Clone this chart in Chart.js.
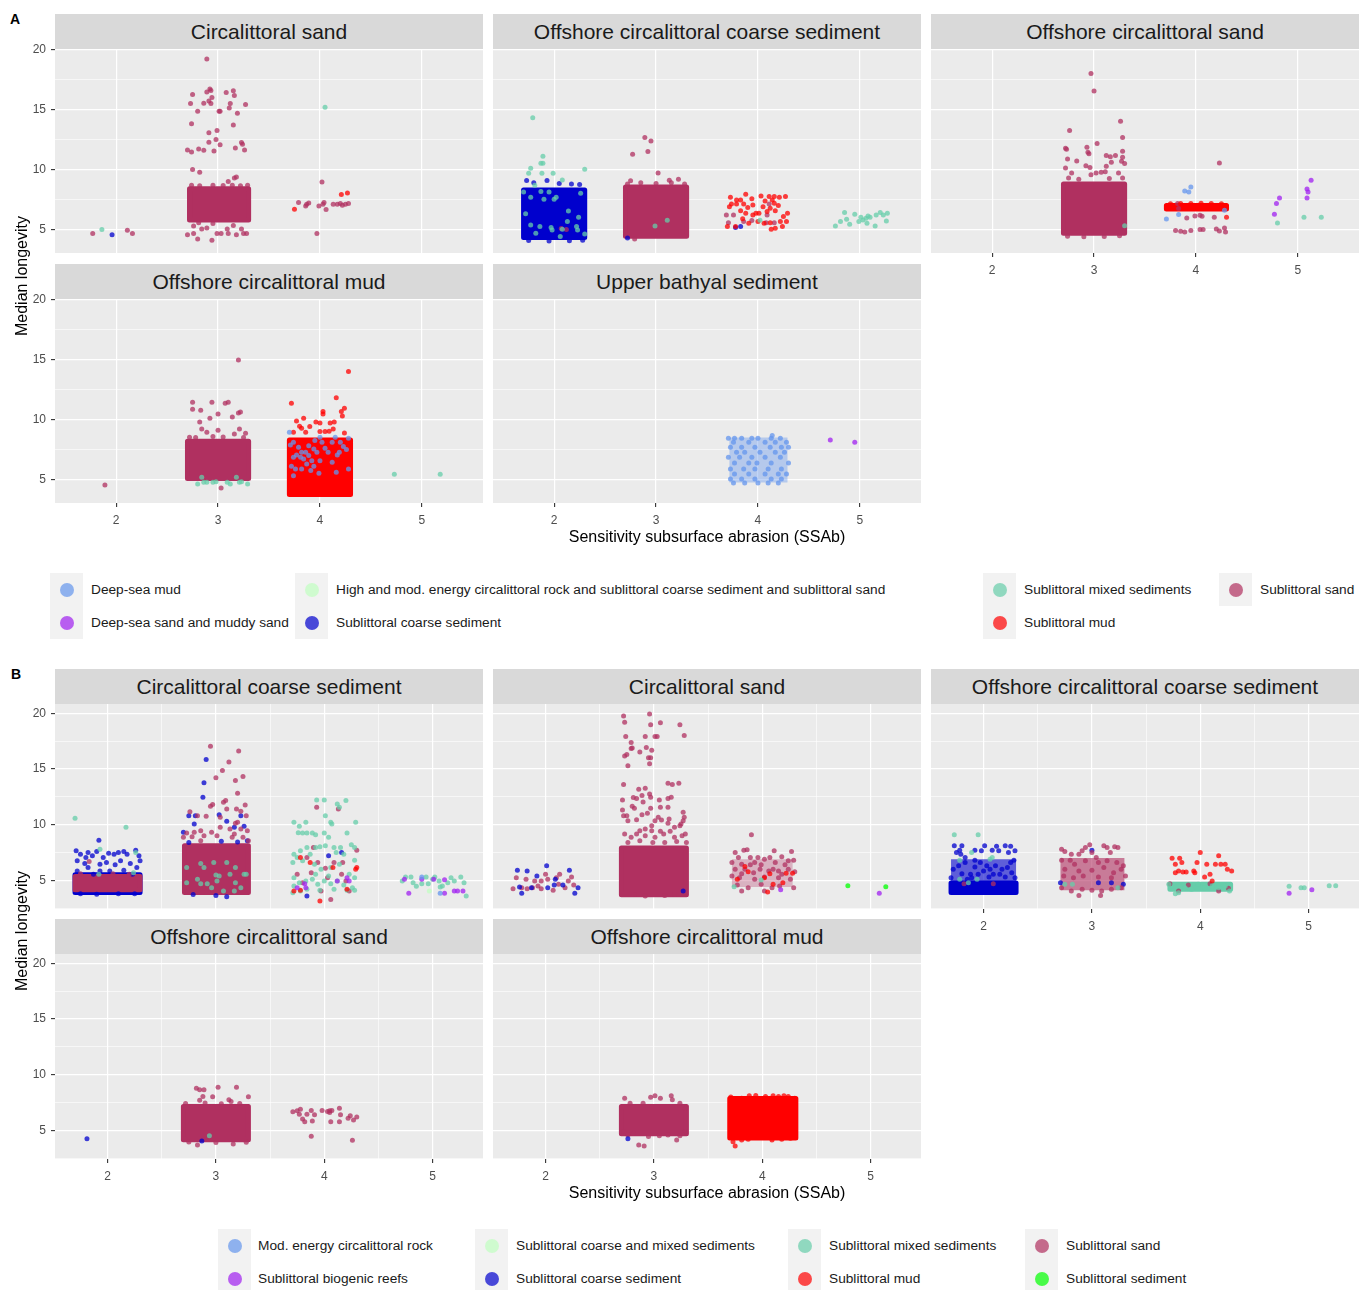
<!DOCTYPE html>
<html>
<head>
<meta charset="utf-8">
<script src="https://cdn.jsdelivr.net/npm/chart.js@4.4.1/dist/chart.umd.min.js"></script>
<style>
  body { margin: 0; background: #fff; font-family: "Liberation Sans", Arial, sans-serif; }
  #page { position: relative; width: 1371px; height: 1290px; overflow: hidden; }
  canvas { position: absolute; }
  .strip { position: absolute; width: 428px; height: 35px; line-height: 35px; background: #d9d9d9; color: #1a1a1a; font-size: 21px; text-align: center; }
  .tag { position: absolute; font-size: 14px; font-weight: bold; line-height: 14px; }
  .xtitle { position: absolute; width: 600px; height: 20px; line-height: 20px; font-size: 16px; text-align: center; color: #000; }
  .ytitle { position: absolute; width: 200px; height: 20px; line-height: 20px; font-size: 16px; text-align: center; color: #000; transform: rotate(-90deg); }
  .key { position: absolute; width: 33px; height: 33px; background: #f2f2f2; }
  .key span { position: absolute; left: 9.5px; top: 9.5px; width: 14px; height: 14px; border-radius: 50%; }
  .ltxt { position: absolute; height: 33px; line-height: 33px; font-size: 13.7px; color: #1a1a1a; white-space: nowrap; }
</style>
</head>
<body>
<div id="page"></div>
<script>
// couleurs des habitats
const colours = {
  deep: '#6495ED', purple: '#A020F0', pale: '#C1FFC1', coarse: '#0000CD',
  mixed: '#66CDAA', mud: '#FF0000', sand: '#B03060', sed: '#00FF00'
};

const yTicks = [2.5, 5, 7.5, 10, 12.5, 15, 17.5, 20];
const xTicksA = [2, 3, 4, 5];
const xTicksB = [2, 2.5, 3, 3.5, 4, 4.5, 5];

const legendA = [
  ['Deep-sea mud', 'deep'], ['Deep-sea sand and muddy sand', 'purple'],
  ['High and mod. energy circalittoral rock and sublittoral coarse sediment and sublittoral sand', 'pale'], ['Sublittoral coarse sediment', 'coarse'],
  ['Sublittoral mixed sediments', 'mixed'], ['Sublittoral mud', 'mud'],
  ['Sublittoral sand', 'sand']
];
const legendB = [
  ['Mod. energy circalittoral rock', 'deep'], ['Sublittoral biogenic reefs', 'purple'],
  ['Sublittoral coarse and mixed sediments', 'pale'], ['Sublittoral coarse sediment', 'coarse'],
  ['Sublittoral mixed sediments', 'mixed'], ['Sublittoral mud', 'mud'],
  ['Sublittoral sand', 'sand'], ['Sublittoral sediment', 'sed']
];

// ---- A: Circalittoral sand
const a1SandCore = [2.72, 3.30, 5.8, 8.4];
const a1Sand = [1.77,4.67, 2.11,4.94, 2.16,4.67,
  2.89,19.22, 2.75,16.25, 2.89,16.47, 2.92,16.72, 2.93,16.6, 2.94,16.0, 2.73,15.5, 2.86,15.53, 2.91,15.72, 2.93,15.5,
  2.80,14.86, 3.01,14.86, 3.02,14.86, 3.08,16.42, 3.15,16.58, 3.16,16.17, 3.12,15.5, 3.11,15.14, 3.19,14.69, 3.27,15.42,
  2.74,13.83, 3.15,13.72, 2.91,13.08, 2.99,13.25, 2.98,12.5, 2.91,12.28, 3.02,12.08, 2.70,11.64, 2.74,11.47, 2.81,11.72,
  2.86,11.61, 2.96,11.56, 3.17,11.81, 3.23,12.25, 3.24,12.11, 3.26,11.64, 2.75,10.0, 2.82,9.78, 3.16,9.31, 3.18,9.39,
  2.70,4.58, 2.76,4.67, 2.80,4.22, 2.94,4.11, 2.99,4.67, 3.03,4.67, 3.10,4.67, 3.18,4.58, 3.28,4.67, 3.25,4.67,
  2.84,5.05, 2.89,5.14, 3.09,5.05, 3.23,5.05, 2.81,5.58, 2.76,5.3, 3.15,5.35, 2.95,5.5,
  2.74,8.7, 2.82,8.65, 2.95,8.7, 3.05,8.68, 3.14,8.7, 3.22,8.66, 3.29,8.7, 3.10,9.0,
  3.79,7.25, 3.87,7.11, 3.89,7.22, 3.86,6.97, 4.02,8.97, 3.99,6.97, 4.04,7.25, 4.06,6.67, 4.03,7.11, 4.13,7.11,
  4.17,7.11, 4.20,7.17, 4.25,7.11, 4.28,7.17, 4.22,7.03, 3.97,4.67];
const a1Mud = [3.75,6.69, 4.21,7.92, 4.27,8.06];
const a1Mixed = [1.86,5.0, 4.05,15.19];
const a1Coarse = [1.96,4.58];

// ---- A: Offshore circalittoral coarse sediment
const a2CoarseCore = [1.70, 2.30, 4.35, 8.3];
const a2SandCore = [2.70, 3.30, 4.45, 8.55];
const a2Coarse = [1.73,9.1, 1.93,9.1, 2.17,8.8, 1.80,8.9, 2.05,8.85, 2.25,8.75, 1.75,4.1, 1.95,4.05, 2.15,4.08, 2.28,4.12,
  3.78,5.17, 3.83,5.25, 2.72,4.3];
const a2Sand = [2.77,11.28, 2.89,12.67, 2.95,12.39, 2.92,11.5, 3.02,9.72, 2.75,9.08, 3.13,9.11, 3.22,9.19, 2.79,4.22,
  2.07,5.1, 2.12,5.0, 2.72,8.8, 2.85,8.9, 3.0,8.85, 3.15,8.9, 3.28,8.8,
  3.69,6.22, 3.76,6.22, 3.71,5.58, 3.86,5.67, 3.94,5.75, 4.11,7.14, 4.09,6.22, 4.16,5.58, 4.08,5.58];
const a2Mud = [3.73,7.69, 3.79,7.47, 3.83,7.47, 3.88,7.94, 3.94,7.58, 3.74,7.14, 3.79,7.14, 3.86,7.14, 3.95,7.06, 3.83,6.58,
  3.88,6.36, 3.95,6.22, 3.98,6.36, 4.03,7.81, 4.07,7.39, 4.11,7.75, 4.14,7.47, 4.16,7.75, 4.21,7.69, 4.27,7.75,
  4.16,7.19, 4.12,6.78, 4.09,6.5, 4.17,6.58, 4.29,6.36, 4.0,5.67, 4.06,5.53, 4.12,5.58, 4.22,5.67, 4.28,5.67,
  3.70,5.25, 3.78,5.25, 3.91,5.53, 4.01,6.36, 4.13,5.03, 4.17,5.11, 4.24,5.25, 3.72,6.9, 3.90,6.85, 4.20,7.0,
  4.25,6.1, 3.85,5.9, 4.05,6.9];
const a2Mixed = [1.79,14.33, 1.89,11.11, 1.87,10.53, 1.89,10.53, 1.77,10.11, 1.75,9.69, 1.88,9.69, 1.99,9.69, 2.30,10.03,
  2.08,9.14, 1.81,8.69, 1.70,8.14, 1.87,8.17, 1.95,8.14, 1.77,7.69, 2.02,7.69, 2.0,7.53, 1.9,7.53, 2.26,8.03,
  2.14,6.56, 2.24,6.03, 2.13,5.67, 1.86,5.25, 1.97,5.17, 1.98,4.97, 2.08,5.03, 2.22,5.25, 2.23,4.97, 1.82,4.69,
  2.06,4.42, 2.30,4.64, 1.72,6.33, 1.77,5.39, 3.11,5.78, 2.99,5.31, 4.02,5.78,
  4.76,5.31, 4.81,5.67, 4.85,6.42, 4.87,5.86, 4.90,5.44, 4.95,6.28, 4.99,5.67, 5.01,6.03, 5.06,5.94, 5.07,5.53,
  5.10,6.03, 5.15,5.31, 5.16,6.22, 5.20,6.42, 5.23,6.22, 5.26,5.72, 5.27,6.36, 5.03,5.81, 5.08,6.14];

// ---- A: Offshore circalittoral sand
const a3SandCore = [2.70, 3.30, 4.7, 8.8];
const a3MudCore = [3.71, 4.30, 6.72, 7.0];
const a3Sand = [2.97,18.0, 3.0,16.56, 3.26,14.03, 2.76,13.25, 3.28,12.67, 2.72,11.78, 2.73,11.69, 2.93,11.86, 2.94,11.44,
  3.03,12.17, 2.95,11.33, 2.74,10.89, 2.83,10.72, 3.12,11.17, 3.16,11.08, 3.21,11.17, 3.28,11.53, 3.28,11.03, 3.17,10.61,
  3.27,10.69, 3.30,10.5, 2.72,10.14, 2.92,10.33, 2.96,10.17, 3.12,10.28, 3.07,9.78, 3.02,9.72, 3.11,9.83, 3.24,9.72,
  2.78,9.72, 2.97,9.58, 2.75,9.3, 2.85,9.2, 3.15,9.25, 3.28,9.3, 2.74,4.45, 2.9,4.4, 3.1,4.42, 3.25,4.48,
  3.83,6.75, 3.91,5.97, 3.99,6.14, 4.04,6.19, 4.06,6.11, 4.18,6.03, 3.80,4.92, 3.85,4.86, 3.89,4.81, 3.95,4.92,
  4.04,5.0, 4.07,5.0, 4.20,5.06, 4.23,4.89, 4.28,5.14, 4.29,4.81, 4.23,10.56, 3.82,7.17];
const a3Mud = [4.30,6.03, 3.75,7.15, 3.85,7.18, 3.95,7.17, 4.05,7.2, 4.15,7.18, 4.25,7.15];
const a3Deep = [3.89,8.22, 3.93,8.14, 3.95,8.56, 3.71,5.89, 3.83,6.25, 4.28,6.61];
const a3Purple = [4.77,6.28, 4.79,7.17, 4.82,7.64, 5.09,7.64, 5.09,8.39, 5.10,8.14, 5.13,9.11];
const a3Mixed = [3.30,5.33, 4.80,5.56, 5.06,6.03, 5.23,6.03];

// ---- A: Offshore circalittoral mud
const a4SandCore = [2.70, 3.30, 5.1, 8.2];
const a4MudCore = [3.70, 4.30, 3.75, 8.3];
const a4Sand = [1.89,4.56, 3.20,14.97, 2.75,11.44, 2.94,11.44, 3.07,11.36, 3.10,11.44, 2.75,10.86, 2.83,10.78, 2.92,10.11,
  3.0,10.47, 3.14,10.22, 3.20,10.56, 3.22,10.64, 2.82,9.81, 2.84,9.22, 3.0,9.11, 3.21,9.22, 3.27,8.86, 2.72,8.53,
  2.89,8.94, 3.16,8.81, 3.03,4.31, 2.78,8.5, 3.05,8.55, 3.25,8.5, 2.95,8.6];
const a4Mixed = [2.80,4.64, 2.84,5.19, 2.86,4.78, 2.89,4.78, 2.95,4.78, 2.98,4.83, 3.09,4.78, 3.12,4.64, 3.18,5.19, 3.21,4.78,
  3.23,4.83, 3.29,4.64, 4.73,5.44, 5.18,5.44];
const a4Mud = [4.28,14.0, 3.72,11.36, 4.16,11.83, 4.03,10.67, 4.03,10.47, 4.21,10.67, 4.22,10.31, 4.24,10.94, 3.77,9.89,
  3.84,10.11, 3.96,9.81, 4.0,9.72, 4.10,9.72, 4.14,9.81, 3.80,9.44, 3.82,9.28, 3.90,9.42, 4.0,9.0, 4.05,9.0,
  4.09,9.03, 4.13,9.22, 4.24,8.89, 3.74,8.94, 3.86,8.94];
const a4Deep = [3.70,8.94, 3.71,7.89, 3.74,8.11, 3.79,7.69, 3.82,7.28, 3.77,7.06, 3.74,6.86, 3.81,6.86, 3.86,7.28, 3.89,7.83,
  3.94,7.56, 3.95,8.25, 4.0,8.53, 4.02,8.11, 4.05,7.61, 4.08,7.28, 4.12,8.11, 4.15,8.53, 4.20,8.11, 4.23,7.75,
  4.26,7.5, 4.28,8.44, 4.17,7.06, 4.12,6.44, 4.0,6.58, 3.94,6.11, 3.91,5.75, 3.87,6.31, 3.82,5.89, 3.74,5.33,
  3.76,5.89, 3.72,6.11, 3.99,5.53, 4.16,5.61, 4.28,5.89, 4.19,7.28, 3.97,7.28, 3.84,6.72, 3.92,6.58, 3.89,7.0];

// ---- A: Upper bathyal sediment
const a5DeepCore = [3.72, 4.29, 4.75, 8.5];
const a5Deep = [3.71,8.44, 3.77,8.44, 3.84,8.44, 3.94,8.44, 4.0,8.44, 4.13,8.44, 4.22,8.44, 4.14,8.67,
  3.76,8.11, 3.91,8.11, 4.07,8.11, 4.17,8.11, 4.28,8.11, 3.73,7.69, 3.84,7.69, 3.97,7.69, 4.12,7.69, 4.23,7.69, 4.30,7.69,
  3.79,7.28, 3.87,7.28, 4.02,7.28, 4.17,7.28, 4.26,7.28, 3.71,6.86, 3.82,6.86, 3.94,6.86, 4.07,6.86, 4.22,6.86,
  3.77,6.39, 3.91,6.39, 3.99,6.39, 4.13,6.39, 4.30,6.39, 3.73,5.89, 3.86,5.89, 3.97,5.89, 4.10,5.89, 4.23,5.89,
  3.77,5.47, 3.91,5.47, 4.07,5.47, 4.20,5.47, 4.28,5.47, 3.73,5.06, 3.84,5.06, 3.97,5.06, 4.13,5.06, 4.23,5.06,
  3.76,4.72, 3.87,4.72, 4.0,4.72, 4.10,4.72, 4.20,4.72];
const a5Purple = [4.71,8.31, 4.95,8.11];

// ---- B: Circalittoral coarse sediment
const b1CoarseCore = [1.70, 2.30, 3.9, 5.5];
const b1SandCore2 = [1.70, 2.30, 4.15, 5.35];
const b1SandCore3 = [2.71, 3.30, 3.9, 8.1];
const b1Coarse = [1.92,8.61, 1.71,7.65, 1.75,7.35, 1.82,7.5, 1.86,7.2, 1.90,7.59, 1.80,7.05, 1.96,7.05, 2.01,7.44, 2.06,7.35,
  2.10,7.5, 2.15,7.59, 2.18,7.35, 2.26,7.71, 2.29,7.2, 1.93,6.45, 1.99,6.6, 2.07,6.39, 2.12,6.75, 2.21,6.51,
  2.27,6.14, 1.82,6.14, 1.87,5.54, 1.93,5.84, 2.02,5.84, 2.15,5.9, 2.23,5.54, 2.30,6.75, 1.72,6.75, 1.79,6.51,
  1.72,5.84, 1.75,3.8, 1.9,3.75, 2.1,3.78, 2.25,3.8,
  2.91,15.87, 2.89,13.77, 2.88,12.47, 2.75,10.81, 2.81,10.81, 3.03,10.9, 3.10,10.3, 3.23,10.81, 3.17,9.76, 3.26,9.85,
  2.80,10.06, 2.70,9.31, 2.79,3.73, 3.0,3.64, 3.10,3.52, 3.29,8.55, 2.75,8.4, 3.05,8.5, 3.2,8.45,
  4.04,7.2, 4.16,7.5, 3.84,3.58];
const b1Sand = [1.83,6.69, 1.75,5.6, 2.05,5.6, 2.2,5.55,
  2.95,17.05, 3.21,16.63, 3.12,15.63, 3.06,14.88, 3.0,14.22, 3.25,14.34, 3.18,13.98, 3.20,12.83, 2.97,11.81, 2.95,11.66,
  3.07,12.02, 3.09,12.17, 3.27,11.78, 3.10,11.42, 3.19,11.42, 3.23,11.2, 2.76,11.17, 2.83,10.81, 2.91,10.75, 3.28,10.81,
  3.04,10.66, 3.18,10.12, 3.20,10.21, 2.73,9.25, 2.80,9.31, 2.86,9.46, 2.96,9.31, 3.04,9.76, 3.13,9.61, 3.17,9.16,
  3.23,9.61, 3.29,9.46, 2.70,8.86, 2.78,8.92, 2.89,9.0, 3.01,9.0, 3.15,8.86, 3.25,8.86, 3.30,8.55, 2.86,8.55,
  3.93,11.57, 4.13,11.42, 3.90,7.95, 4.30,7.71, 3.84,7.05, 3.94,6.6, 4.01,6.08, 4.09,6.6, 4.17,6.6, 3.88,5.69,
  4.03,5.24, 4.20,4.94, 3.80,4.79, 3.75,5.54, 4.16,5.54, 4.06,3.28, 3.97,4.04, 4.23,4.04];
const b1Mixed = [1.70,10.57, 2.17,9.76, 1.93,7.8, 2.26,7.5, 2.24,5.69, 1.92,5.54,
  2.86,6.51, 2.89,6.14, 2.98,6.6, 3.0,5.48, 3.03,5.39, 2.83,5.09, 2.86,4.7, 2.92,4.7, 3.01,4.94, 3.10,6.6,
  3.13,5.54, 3.18,6.14, 3.18,4.79, 3.26,5.54, 3.28,5.54, 3.07,4.04, 3.17,4.04, 2.73,6.14, 2.73,4.79, 2.96,4.34, 3.23,4.34,
  3.93,12.23, 4.0,12.23, 4.20,12.17, 4.12,11.87, 4.14,11.57, 3.72,10.21, 3.77,9.85, 3.83,10.21, 3.76,9.28, 3.80,9.25,
  3.84,9.25, 3.89,9.25, 3.92,9.1, 4.01,10.81, 4.06,10.21, 4.07,10.06, 4.29,10.21, 4.0,9.25, 4.04,8.86, 4.21,9.25,
  3.84,7.95, 3.92,7.95, 3.96,8.01, 4.01,8.1, 4.09,7.95, 4.15,7.95, 4.25,8.19, 4.28,7.95, 3.78,7.65, 3.72,7.35,
  3.75,7.05, 3.87,7.35, 4.11,7.5, 4.18,7.35, 4.28,6.81, 3.71,6.6, 3.80,6.75, 3.91,6.45, 3.97,5.99, 4.06,6.14,
  4.14,6.45, 4.23,5.54, 4.28,5.24, 3.72,5.24, 3.77,4.79, 3.83,4.94, 3.89,5.09, 3.94,4.64, 4.0,4.94, 4.06,4.7,
  4.12,4.94, 4.18,4.58, 4.26,4.34, 3.71,3.89, 3.78,4.04, 3.84,4.19, 3.96,4.1, 4.09,4.19, 4.21,4.1, 4.28,4.1,
  3.72,4.49, 3.92,5.54, 4.04,5.39,
  4.72,4.94, 4.75,5.3, 4.80,5.3, 4.82,4.79, 4.85,4.46, 4.90,4.7, 4.94,5.3, 4.96,4.7, 5.0,5.09, 5.02,5.3,
  5.06,4.94, 5.09,4.49, 5.14,4.79, 5.17,5.24, 5.20,4.94, 5.26,5.3, 5.29,4.79, 5.31,3.58, 5.07,4.4];
const b1Mud = [3.78,7.05, 3.87,6.6, 4.08,6.14, 4.29,5.99, 4.30,6.14, 3.96,3.13, 3.72,4.04, 3.78,4.1, 4.21,4.19];
const b1Purple = [3.75,4.34, 3.82,4.7, 3.83,4.34, 4.12,4.94, 4.21,5.24, 4.23,4.94, 4.74,5.09, 4.78,3.83, 4.90,5.09, 5.01,5.09,
  5.11,5.06, 5.11,3.83, 5.20,4.04, 5.23,4.04, 5.28,4.04];
const b1Deep = [4.90,5.3, 5.07,3.83];
const b1Pale = [4.97,4.04];

// ---- B: Circalittoral sand
const b2SandCore3 = [2.70, 3.30, 3.7, 7.9];
const b2SandCore4 = [3.72, 4.28, 4.4, 6.9];
const b2Sand = [1.70,4.25, 1.73,5.24, 1.78,4.34, 1.82,5.09, 1.88,4.34, 1.90,4.94, 1.96,4.94, 2.0,5.54, 2.02,5.09, 2.07,4.1,
  2.10,5.24, 2.13,5.54, 2.18,4.34, 2.21,4.94, 2.24,5.3, 2.26,4.58, 1.96,4.25, 1.83,4.25, 1.93,4.49, 2.12,4.64,
  2.72,19.76, 2.96,19.94, 2.73,19.22, 2.97,18.98, 3.06,19.16, 3.24,18.98, 2.74,17.92, 2.92,17.92, 3.01,17.92, 3.03,17.92,
  3.28,18.01, 2.79,17.38, 2.80,16.9, 2.79,16.84, 2.87,16.54, 2.93,16.93, 2.98,16.69, 2.73,16.17, 2.75,16.3, 2.95,16.02,
  2.97,16.02, 2.96,15.48, 2.76,15.3, 2.72,13.61, 2.86,13.19, 2.92,13.28, 3.13,13.73, 3.17,13.61, 3.23,13.73, 2.71,12.23,
  2.81,12.44, 2.84,12.35, 2.89,12.62, 2.96,12.77, 2.97,12.47, 3.05,12.23, 3.13,12.35, 3.16,12.47, 2.90,12.05, 2.80,11.66,
  2.82,11.48, 2.97,11.48, 3.06,11.57, 3.13,11.57, 2.71,11.33, 2.72,10.81, 2.75,10.81, 2.89,10.9, 2.94,11.02, 3.04,10.66,
  3.14,10.51, 3.27,11.11, 3.28,10.66, 2.76,10.36, 2.84,10.45, 3.01,10.36, 3.07,10.42, 3.13,10.12, 2.98,9.91, 3.27,10.36,
  3.25,10.06, 2.87,9.46, 2.92,9.61, 2.98,9.46, 3.06,9.4, 3.15,9.4, 3.19,9.76, 3.24,9.91, 3.26,9.0, 2.73,9.16,
  2.79,8.86, 2.84,9.16, 2.92,9.0, 3.01,8.86, 3.09,9.16, 3.19,8.86, 3.29,9.16, 2.76,8.4, 2.87,8.55, 2.99,8.4,
  3.10,8.4, 3.21,8.49, 3.30,8.4, 2.82,3.73, 2.92,3.58, 3.10,3.64, 3.19,3.73,
  3.90,9.1, 3.75,7.5, 3.83,7.71, 3.86,7.74, 4.11,7.65, 4.27,7.59, 3.78,7.05, 3.89,7.05, 3.96,7.05, 4.02,6.9,
  4.07,7.05, 4.18,7.11, 4.24,6.75, 4.29,6.81, 3.72,6.6, 3.81,6.45, 3.93,6.6, 3.99,6.39, 4.12,6.6, 4.21,6.39,
  3.75,5.99, 3.84,5.99, 3.92,5.69, 3.98,5.99, 4.06,5.84, 4.15,5.84, 4.24,5.99, 4.30,5.78, 3.72,5.39, 3.79,5.24,
  3.93,5.09, 4.02,5.3, 4.15,5.24, 4.26,5.09, 3.77,4.58, 3.87,4.34, 3.99,4.64, 4.09,4.34, 4.16,4.49, 4.29,4.34,
  3.81,4.04, 4.02,4.04, 3.81,5.6, 3.89,6.39, 4.10,5.99, 4.18,5.54];
const b2Coarse = [1.74,5.9, 1.83,5.84, 1.92,5.39, 2.01,6.3, 2.22,5.9, 2.09,5.09, 2.16,4.58, 1.78,3.83, 2.27,3.83, 2.30,4.34,
  1.76,4.4, 1.87,4.34, 2.02,4.34, 2.08,4.58, 3.27,4.04];
const b2Mud = [3.84,6.23, 3.87,5.78, 3.77,5.09, 4.07,5.6, 4.02,5.24, 4.10,4.64, 4.05,3.95, 4.19,4.79, 4.22,5.63, 4.28,5.63];
const b2Mixed = [3.74,4.43, 3.99,5.03];
const b2Purple = [4.17,4.16, 5.08,3.83];
const b2Sed = [4.79,4.52, 5.14,4.43];

// ---- B: Offshore circalittoral coarse sediment
const b3CoarseCore = [1.70, 2.30, 3.9, 4.75];
const b3CoarseCoreUp = [1.70, 2.30, 4.75, 6.9];
const b3SandCore = [2.71, 3.30, 4.1, 7.0];
const b3MixedCore = [3.72, 4.28, 4.2, 4.65];
const b3Coarse = [1.73,8.1, 1.78,7.71, 1.80,8.1, 1.75,7.5, 1.79,7.35, 1.83,7.05, 1.92,7.71, 1.98,7.65, 2.01,8.1, 2.08,7.71,
  2.12,8.07, 2.14,7.65, 2.20,8.1, 2.25,8.07, 2.29,7.65, 2.23,7.5, 2.28,6.81, 2.25,6.6, 1.92,6.2, 1.97,6.6,
  2.03,6.3, 2.06,5.99, 2.11,6.3, 2.17,5.99, 2.22,6.14, 1.72,5.99, 1.77,6.3, 1.83,6.6, 1.80,5.6, 1.88,5.54,
  1.95,5.54, 2.0,5.84, 2.09,5.54, 2.15,5.54, 2.26,5.69, 1.89,5.24, 2.05,5.3, 2.20,5.3, 2.29,5.24, 1.70,5.24,
  1.85,5.09, 1.92,6.81, 2.71,4.79, 3.0,7.71, 3.06,4.79, 3.18,4.79, 3.29,4.64];
const b3Sand = [1.82,4.7, 2.09,4.7,
  2.98,8.19, 2.72,7.8, 2.75,7.59, 2.81,7.35, 2.88,7.35, 2.91,7.65, 2.94,7.95, 3.0,7.5, 3.11,8.1, 3.14,7.95,
  3.21,8.01, 3.24,7.95, 3.17,7.5, 3.04,7.05, 2.72,6.81, 2.80,6.81, 2.84,6.45, 2.94,6.75, 3.06,6.6, 3.14,6.75,
  3.23,6.6, 3.29,6.3, 2.75,5.99, 2.88,5.84, 3.0,5.9, 3.11,6.14, 3.20,5.69, 3.27,5.99, 2.74,5.39, 2.83,5.24,
  2.92,5.39, 3.06,5.3, 3.18,5.24, 3.31,5.39, 2.72,4.34, 2.81,4.04, 2.91,4.19, 3.0,4.1, 3.09,4.04, 3.18,4.19,
  3.27,4.34, 2.88,3.64, 3.08,3.64,
  3.72,4.7, 3.89,4.58, 4.09,4.7, 4.26,4.28, 3.80,4.04, 4.17,4.04];
const b3Mud = [3.74,6.99, 3.81,6.99, 3.83,6.6, 3.77,6.45, 4.0,7.5, 3.97,6.6, 4.06,6.45, 4.17,7.2, 4.19,6.45, 4.23,6.45,
  4.25,5.99, 4.29,5.84, 3.77,5.69, 3.80,5.84, 3.84,5.75, 3.87,5.75, 3.94,5.84, 3.95,5.69, 4.04,5.3, 4.09,5.54,
  4.11,4.94, 4.14,6.45];
const b3Mixed = [1.73,9.1, 1.95,9.1, 1.89,7.5, 1.78,6.81, 2.06,6.9, 2.08,7.05, 1.78,5.09, 1.86,4.79, 1.94,5.09,
  2.75,4.64, 2.82,4.64, 3.24,4.34,
  3.71,4.64, 3.77,3.8, 3.80,3.89, 3.86,4.34, 3.92,4.19, 3.98,4.64, 4.04,4.34, 4.11,4.49, 4.17,4.34, 4.23,4.46, 4.27,4.04,
  4.82,4.46, 4.93,4.34, 4.96,4.34, 5.19,4.52, 5.25,4.52];
const b3Purple = [4.82,3.83, 5.03,4.16];

// ---- B: Offshore circalittoral sand
const b4SandCore = [2.70, 3.30, 4.15, 7.15];
const b4Sand = [2.82,8.77, 2.85,8.64, 2.89,8.64, 2.88,8.04, 2.85,7.71, 2.97,8.01, 3.02,8.86, 3.12,7.74, 3.14,7.59, 3.19,8.86,
  3.30,8.01, 3.05,7.38, 2.83,3.67, 3.16,3.77, 3.28,3.92, 2.72,7.4, 2.9,7.45, 3.22,7.4, 2.75,3.95, 3.0,3.9,
  3.71,6.66, 3.75,6.75, 3.78,6.9, 3.77,6.45, 3.80,6.02, 3.82,5.78, 3.84,6.45, 3.88,6.78, 3.91,6.39, 3.89,5.84,
  3.98,6.78, 4.03,6.69, 4.05,6.75, 4.07,6.78, 4.05,6.6, 4.06,5.78, 4.14,6.99, 4.15,6.39, 4.14,5.78, 4.22,6.08,
  4.24,6.3, 4.27,5.93, 4.30,6.2, 3.88,4.46, 4.26,4.1];
const b4Coarse = [1.81,4.25, 2.87,4.04];
const b4Mixed = [2.94,4.52];

// ---- B: Offshore circalittoral mud
const b5SandCore = [2.70, 3.30, 4.7, 7.15];
const b5MudCore = [3.70, 4.31, 4.3, 7.85];
const b5Sand = [2.73,7.89, 2.97,7.98, 3.01,8.1, 3.06,7.89, 3.16,8.1, 3.17,7.74, 3.24,7.44, 3.29,6.99, 2.78,7.44, 2.90,7.44,
  2.76,4.58, 2.86,3.67, 2.91,3.58, 3.21,4.13, 3.24,4.52, 3.29,4.88, 3.13,4.58, 2.81,4.73, 2.95,4.45, 3.05,4.5, 2.72,4.9];
const b5Mud = [3.73,3.98, 3.75,3.58, 3.81,4.13, 3.87,4.19, 3.81,7.89, 3.94,8.13, 4.03,8.04, 4.15,8.04, 4.24,8.04, 4.30,7.89,
  4.09,4.13, 4.18,4.19, 4.26,4.28, 3.71,8.0, 3.88,8.1, 4.1,8.1, 4.2,8.1];
const b5Coarse = [2.76,4.25];

// facettes : [type, habitat, données, alpha du bloc]
const facets = [
  { panel: 'A', row: 0, col: 0, title: 'Circalittoral sand', xAxis: false, yAxis: true,
    layers: [['core', 'sand', a1SandCore, 1], ['pts', 'sand', a1Sand], ['pts', 'mud', a1Mud], ['pts', 'mixed', a1Mixed], ['pts', 'coarse', a1Coarse]] },
  { panel: 'A', row: 0, col: 1, title: 'Offshore circalittoral coarse sediment', xAxis: false, yAxis: false,
    layers: [['core', 'coarse', a2CoarseCore, 1], ['core', 'sand', a2SandCore, 1], ['pts', 'coarse', a2Coarse], ['pts', 'sand', a2Sand], ['pts', 'mud', a2Mud], ['pts', 'mixed', a2Mixed]] },
  { panel: 'A', row: 0, col: 2, title: 'Offshore circalittoral sand', xAxis: true, yAxis: false,
    layers: [['core', 'sand', a3SandCore, 1], ['core', 'mud', a3MudCore, 1], ['pts', 'sand', a3Sand], ['pts', 'mud', a3Mud], ['pts', 'deep', a3Deep], ['pts', 'purple', a3Purple], ['pts', 'mixed', a3Mixed]] },
  { panel: 'A', row: 1, col: 0, title: 'Offshore circalittoral mud', xAxis: true, yAxis: true,
    layers: [['core', 'sand', a4SandCore, 1], ['core', 'mud', a4MudCore, 1], ['pts', 'sand', a4Sand], ['pts', 'mixed', a4Mixed], ['pts', 'mud', a4Mud], ['pts', 'deep', a4Deep]] },
  { panel: 'A', row: 1, col: 1, title: 'Upper bathyal sediment', xAxis: true, yAxis: false,
    layers: [['core', 'deep', a5DeepCore, 0.4], ['pts', 'deep', a5Deep], ['pts', 'purple', a5Purple]] },
  { panel: 'B', row: 0, col: 0, title: 'Circalittoral coarse sediment', xAxis: false, yAxis: true,
    layers: [['core', 'coarse', b1CoarseCore, 1], ['core', 'sand', b1SandCore2, 1], ['core', 'sand', b1SandCore3, 1], ['pts', 'coarse', b1Coarse], ['pts', 'sand', b1Sand], ['pts', 'mixed', b1Mixed], ['pts', 'mud', b1Mud], ['pts', 'purple', b1Purple], ['pts', 'deep', b1Deep], ['pts', 'pale', b1Pale]] },
  { panel: 'B', row: 0, col: 1, title: 'Circalittoral sand', xAxis: false, yAxis: false,
    layers: [['core', 'sand', b2SandCore3, 1], ['core', 'sand', b2SandCore4, 0.3], ['pts', 'sand', b2Sand], ['pts', 'coarse', b2Coarse], ['pts', 'mud', b2Mud], ['pts', 'mixed', b2Mixed], ['pts', 'purple', b2Purple], ['pts', 'sed', b2Sed]] },
  { panel: 'B', row: 0, col: 2, title: 'Offshore circalittoral coarse sediment', xAxis: true, yAxis: false,
    layers: [['core', 'coarse', b3CoarseCore, 1], ['core', 'coarse', b3CoarseCoreUp, 0.6], ['core', 'sand', b3SandCore, 0.6], ['core', 'mixed', b3MixedCore, 1], ['pts', 'coarse', b3Coarse], ['pts', 'sand', b3Sand], ['pts', 'mud', b3Mud], ['pts', 'mixed', b3Mixed], ['pts', 'purple', b3Purple]] },
  { panel: 'B', row: 1, col: 0, title: 'Offshore circalittoral sand', xAxis: true, yAxis: true,
    layers: [['core', 'sand', b4SandCore, 1], ['pts', 'sand', b4Sand], ['pts', 'coarse', b4Coarse], ['pts', 'mixed', b4Mixed]] },
  { panel: 'B', row: 1, col: 1, title: 'Offshore circalittoral mud', xAxis: true, yAxis: false,
    layers: [['core', 'sand', b5SandCore, 1], ['core', 'mud', b5MudCore, 1], ['pts', 'sand', b5Sand], ['pts', 'mud', b5Mud], ['pts', 'coarse', b5Coarse]] }
];

// géométrie des panneaux
const panelGeo = {
  A: { strip: [14, 264], top: [49, 299], h: 204, yMin: 3.05, yMax: 20.05, xMin: 1.4, xMax: 5.6, xTicks: xTicksA },
  B: { strip: [669, 919], top: [704, 954], h: 205, yMin: 2.42, yMax: 20.85, xMin: 1.515, xMax: 5.465, xTicks: xTicksB }
};
const colLeft = [55, 493, 931];
const panelW = 428;
const FONT = '"Liberation Sans", Arial, sans-serif';

function rgba(hex, a) {
  const n = parseInt(hex.slice(1), 16);
  return 'rgba(' + (n >> 16) + ',' + ((n >> 8) & 255) + ',' + (n & 255) + ',' + a + ')';
}

function pairs(flat) {
  const out = [];
  for (let i = 0; i < flat.length; i += 2) out.push({ x: flat[i], y: flat[i + 1] });
  return out;
}

const panelBg = {
  id: 'panelBg',
  beforeDraw(chart) {
    const { ctx, chartArea: a } = chart;
    ctx.save();
    ctx.fillStyle = '#ebebeb';
    ctx.fillRect(a.left, a.top, a.right - a.left, a.bottom - a.top);
    ctx.restore();
  }
};

const page = document.getElementById('page');

function addDiv(cls, text, css) {
  const d = document.createElement('div');
  d.className = cls;
  d.textContent = text;
  Object.assign(d.style, css);
  page.appendChild(d);
  return d;
}

function buildFacet(f) {
  const g = panelGeo[f.panel];
  const padL = f.yAxis ? 55 : 0;
  const padT = 10;
  const padB = f.xAxis ? 26 : 0;
  const left = colLeft[f.col];
  const top = g.top[f.row];

  addDiv('strip', f.title, { left: left + 'px', top: g.strip[f.row] + 'px' });

  const cv = document.createElement('canvas');
  cv.width = panelW + padL;
  cv.height = g.h + padT + padB;
  cv.style.left = (left - padL) + 'px';
  cv.style.top = (top - padT) + 'px';
  cv.style.width = cv.width + 'px';
  cv.style.height = cv.height + 'px';
  page.appendChild(cv);

  const n = f.layers.length;
  const datasets = f.layers.map((l, i) => {
    const col = colours[l[1]];
    if (l[0] === 'core') {
      const c = l[2], a = l[3];
      return {
        type: 'line',
        data: [{ x: c[0], y: c[2] }, { x: c[1], y: c[2] }, { x: c[1], y: c[3] }, { x: c[0], y: c[3] }, { x: c[0], y: c[2] }],
        backgroundColor: rgba(col, a), borderColor: rgba(col, a),
        borderWidth: a === 1 ? 5 : 0, borderJoinStyle: 'round',
        fill: 'shape', pointRadius: 0, tension: 0, order: n - i
      };
    }
    return {
      type: 'scatter', data: pairs(l[2]),
      backgroundColor: rgba(col, 0.75), borderWidth: 0, pointRadius: 2.5, order: n - i
    };
  });

  const yMajor = v => v % 5 === 0;
  const xMajor = v => v % 1 === 0;

  new Chart(cv, {
    type: 'scatter',
    data: { datasets },
    options: {
      responsive: false, animation: false, maintainAspectRatio: false,
      layout: { autoPadding: false, padding: { top: padT, left: 0, right: 0, bottom: 0 } },
      plugins: { legend: { display: false }, tooltip: { enabled: false } },
      scales: {
        x: {
          type: 'linear', min: g.xMin, max: g.xMax,
          afterBuildTicks: s => { s.ticks = g.xTicks.map(v => ({ value: v })); },
          afterFit: s => { s.height = padB; s.paddingLeft = 0; s.paddingRight = 0; },
          border: { display: false },
          grid: {
            color: '#ffffff',
            lineWidth: c => (c.tick && xMajor(c.tick.value)) ? 1.2 : 0.6,
            drawTicks: f.xAxis, tickLength: 4, tickWidth: 1.1,
            tickColor: c => (c.tick && xMajor(c.tick.value)) ? '#333333' : 'rgba(0,0,0,0)'
          },
          ticks: {
            display: f.xAxis, autoSkip: false, maxRotation: 0, padding: 6,
            color: '#4d4d4d', font: { size: 12, family: FONT },
            callback: v => xMajor(v) ? String(v) : ''
          }
        },
        y: {
          type: 'linear', min: g.yMin, max: g.yMax,
          afterBuildTicks: s => { s.ticks = yTicks.filter(v => v >= g.yMin && v <= g.yMax).map(v => ({ value: v })); },
          afterFit: s => { s.width = padL; s.paddingTop = 0; s.paddingBottom = 0; },
          border: { display: false },
          grid: {
            color: '#ffffff',
            lineWidth: c => (c.tick && yMajor(c.tick.value)) ? 1.2 : 0.6,
            drawTicks: f.yAxis, tickLength: 4, tickWidth: 1.1,
            tickColor: c => (c.tick && yMajor(c.tick.value)) ? '#333333' : 'rgba(0,0,0,0)'
          },
          ticks: {
            display: f.yAxis, autoSkip: false, padding: 5,
            color: '#4d4d4d', font: { size: 12, family: FONT },
            callback: v => yMajor(v) ? String(v) : ''
          }
        }
      }
    },
    plugins: [panelBg]
  });
}

facets.forEach(buildFacet);

// étiquettes de panneau et titres des axes
addDiv('tag', 'A', { left: '10px', top: '12px' });
addDiv('tag', 'B', { left: '11px', top: '667px' });
addDiv('xtitle', 'Sensitivity subsurface abrasion (SSAb)', { left: '407px', top: '527px' });
addDiv('xtitle', 'Sensitivity subsurface abrasion (SSAb)', { left: '407px', top: '1183px' });
addDiv('ytitle', 'Median longevity', { left: '-78px', top: '266px' });
addDiv('ytitle', 'Median longevity', { left: '-78px', top: '921px' });

// légendes (deux lignes, remplies par colonne)
function buildLegend(items, keyLefts, textLefts, top) {
  items.forEach((it, i) => {
    const c = Math.floor(i / 2), r = i % 2;
    const y = top + r * 33;
    const k = addDiv('key', '', { left: keyLefts[c] + 'px', top: y + 'px' });
    const dot = document.createElement('span');
    dot.style.background = rgba(colours[it[1]], 0.7);
    k.appendChild(dot);
    addDiv('ltxt', it[0], { left: textLefts[c] + 'px', top: y + 'px' });
  });
}
buildLegend(legendA, [50, 295, 983, 1219], [91, 336, 1024, 1260], 573);
buildLegend(legendB, [218, 475, 788, 1025], [258, 516, 829, 1066], 1229);
</script>
</body>
</html>
